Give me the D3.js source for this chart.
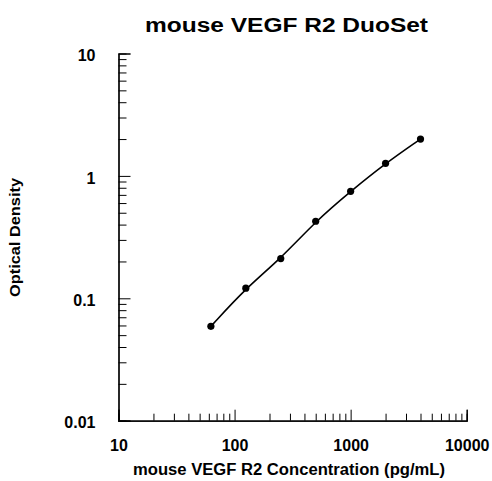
<!DOCTYPE html>
<html><head><meta charset="utf-8">
<script src="https://cdn.jsdelivr.net/npm/d3@7"></script>
<style>
html,body{margin:0;padding:0;background:#fff;}
svg{display:block;font-family:"Liberation Sans",Arial,Helvetica,sans-serif;}
</style></head>
<body>
<svg id="chart" width="492" height="481"></svg>
<script>
const titleText = "mouse VEGF R2 DuoSet";
const xTitle = "mouse VEGF R2 Concentration (pg/mL)";
const yTitle = "Optical Density";
const concentrations = [62.5, 125, 250, 500, 1000, 2000, 4000];
const opticalDensity = [0.059, 0.121, 0.211, 0.426, 0.748, 1.267, 2.0];
const xTickLabels = [10, 100, 1000, 10000];
const yTickLabels = [0.01, 0.1, 1, 10];

const svg = d3.select("#chart");
const x = d3.scaleLog().domain([10, 10000]).range([118.5, 466.7]);
const y = d3.scaleLog().domain([0.01, 10]).range([420.7, 53.5]);

const allX = x.ticks().filter(v => v >= 10 && v <= 10000);
const allY = y.ticks().filter(v => v >= 0.01 && v <= 10);
const isMajor = v => Math.abs(Math.log10(v) - Math.round(Math.log10(v))) < 1e-9;

// Y axis major
const yMajor = svg.append("g").attr("transform", "translate(118.5,0)")
  .call(d3.axisLeft(y).tickValues(yTickLabels).tickSize(-12).tickPadding(23)
    .tickFormat(d => String(d)));
// Y axis minor
svg.append("g").attr("transform", "translate(118.5,0)")
  .call(d3.axisLeft(y).tickValues(allY.filter(v => !isMajor(v))).tickSize(-8).tickFormat(""));
// X axis major
const xMajor = svg.append("g").attr("transform", "translate(0,420.7)")
  .call(d3.axisBottom(x).tickValues(xTickLabels).tickSize(-11).tickPadding(19)
    .tickFormat(d => String(d)));
svg.append("g").attr("transform", "translate(0,420.7)")
  .call(d3.axisBottom(x).tickValues(allX.filter(v => !isMajor(v))).tickSize(-7).tickFormat(""));

svg.selectAll(".domain").attr("stroke", "#000").attr("stroke-width", 1.2);
svg.selectAll(".tick line").attr("stroke", "#000").attr("stroke-width", 1);
svg.selectAll(".tick text").attr("font-family", "'Liberation Sans',Arial,sans-serif")
  .attr("font-size", 16).attr("font-weight", "bold").attr("fill", "#000");
yMajor.selectAll(".tick text").attr("dy", "0.45em");
xMajor.selectAll(".tick text").attr("dy", "0.71em");

// Curve
const pts = concentrations.map((c, i) => [x(c), y(opticalDensity[i])]);
svg.append("path")
  .attr("d", d3.line().curve(d3.curveBasis)(pts))
  .attr("fill", "none").attr("stroke", "#000").attr("stroke-width", 1.6);
svg.selectAll("circle.pt").data(concentrations).enter().append("circle")
  .attr("class", "pt")
  .attr("cx", d => x(d))
  .attr("cy", (d, i) => y(opticalDensity[i]))
  .attr("r", 3.6).attr("fill", "#000");

// Titles
svg.append("text").attr("x", 286.5).attr("y", 31.5).attr("text-anchor", "middle")
  .attr("font-size", 20).attr("font-weight", "bold")
  .attr("textLength", 283).attr("lengthAdjust", "spacingAndGlyphs").text(titleText);
svg.append("text").attr("x", 289).attr("y", 475).attr("text-anchor", "middle")
  .attr("font-size", 16).attr("font-weight", "bold")
  .attr("textLength", 312).attr("lengthAdjust", "spacingAndGlyphs").text(xTitle);
svg.append("text").attr("transform", "translate(19.5,237.5) rotate(-90)")
  .attr("text-anchor", "middle").attr("font-size", 15).attr("font-weight", "bold")
  .attr("textLength", 119).attr("lengthAdjust", "spacingAndGlyphs").text(yTitle);
</script>
</body></html>
